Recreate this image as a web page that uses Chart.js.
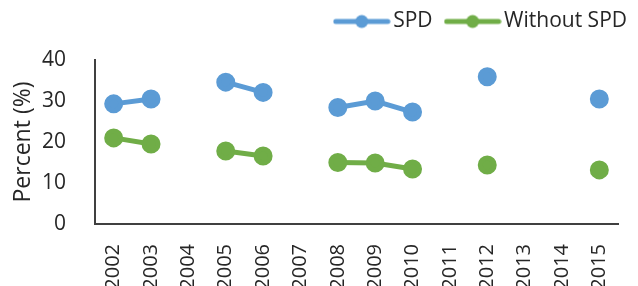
<!DOCTYPE html>
<html>
<head>
<meta charset="utf-8">
<script src="https://cdn.jsdelivr.net/npm/chart.js@4"></script>
<style>
    html, body { margin: 0; padding: 0; background: #ffffff; }
    #wrap { width: 638px; height: 286px; }
</style>
</head>
<body>
<div id="wrap"><canvas id="chart" width="638" height="286"></canvas></div>
<script>
const years = ["2002", "2003", "2004", "2005", "2006", "2007", "2008",
    "2009", "2010", "2011", "2012", "2013", "2014", "2015"];

const spd = [29.3, 30.5, null, 34.6, 32.1, null, 28.4,
    30.0, 27.3, null, 35.9, null, null, 30.5];

const withoutSpd = [21.0, 19.5, null, 17.8, 16.6, null, 15.0,
    14.9, 13.4, null, 14.4, null, null, 13.2];

const yTicks = [0, 10, 20, 30, 40];

const blue = "#5b9bd5";
const green = "#70ad47";
const textColor = "#262626";
const fontFamily = "'Open Sans', sans-serif";

// little line + dot used as legend marker
function legendMarker(color) {
    const c = document.createElement("canvas");
    c.width = 58;
    c.height = 16;
    const g = c.getContext("2d");
    g.strokeStyle = color;
    g.lineWidth = 5;
    g.lineCap = "round";
    g.beginPath();
    g.moveTo(3, 8);
    g.lineTo(55, 8);
    g.stroke();
    g.fillStyle = color;
    g.beginPath();
    g.arc(29, 8, 6.5, 0, Math.PI * 2);
    g.fill();
    return c;
}

const markers = [legendMarker(blue), legendMarker(green)];

// legend sits higher than its padding would put it and leaves a gap above the plot
const legendPlace = {
    id: "legendPlace",
    afterInit(chart) {
        const legend = chart.legend;
        const fit = legend.fit;
        legend.fit = function () {
            fit.call(this);
            this.height = 60;
        };
    },
    afterLayout(chart) {
        chart.legend.right += 28;
        chart.legend.top -= 8;
    }
};

const ctx = document.getElementById("chart").getContext("2d");

new Chart(ctx, {
    type: "line",
    data: {
        labels: years,
        datasets: [
            {
                label: "SPD",
                data: spd,
                borderColor: blue,
                backgroundColor: blue,
                borderWidth: 5,
                pointRadius: 7,
                pointHoverRadius: 7,
                spanGaps: false
            },
            {
                label: "Without SPD",
                data: withoutSpd,
                borderColor: green,
                backgroundColor: green,
                borderWidth: 5,
                pointRadius: 7,
                pointHoverRadius: 7,
                spanGaps: false
            }
        ]
    },
    plugins: [legendPlace],
    options: {
        responsive: false,
        animation: false,
        layout: {
            padding: { left: 0, right: 20, top: 0, bottom: 0 }
        },
        plugins: {
            tooltip: { enabled: false },
            legend: {
                position: "top",
                align: "end",
                labels: {
                    usePointStyle: true,
                    pointStyleWidth: 42,
                    padding: 19,
                    color: textColor,
                    font: { family: fontFamily, size: 21 },
                    generateLabels(chart) {
                        return chart.data.datasets.map((ds, i) => ({
                            text: ds.label,
                            pointStyle: markers[i],
                            fillStyle: ds.borderColor,
                            strokeStyle: ds.borderColor,
                            lineWidth: 0,
                            fontColor: textColor,
                            datasetIndex: i
                        }));
                    }
                }
            }
        },
        scales: {
            x: {
                offset: true,
                grid: { display: false },
                border: { display: true, color: "#404040", width: 2 },
                ticks: {
                    color: textColor,
                    font: { family: fontFamily, size: 20 },
                    minRotation: 90,
                    maxRotation: 90,
                    padding: 12,
                    autoSkip: false
                },
                afterFit(scale) { scale.height = 62; }
            },
            y: {
                min: 0,
                max: 40,
                grid: { display: false },
                border: { display: true, color: "#404040", width: 2 },
                afterBuildTicks(scale) {
                    scale.ticks = yTicks.map(v => ({ value: v }));
                },
                ticks: {
                    color: textColor,
                    font: { family: fontFamily, size: 21 },
                    padding: 21
                },
                title: {
                    display: true,
                    text: "Percent (%)",
                    color: textColor,
                    font: { family: fontFamily, size: 23 },
                    padding: { top: 10, bottom: 0 }
                },
                afterFit(scale) { scale.width = 95; }
            }
        }
    }
});
</script>
</body>
</html>
